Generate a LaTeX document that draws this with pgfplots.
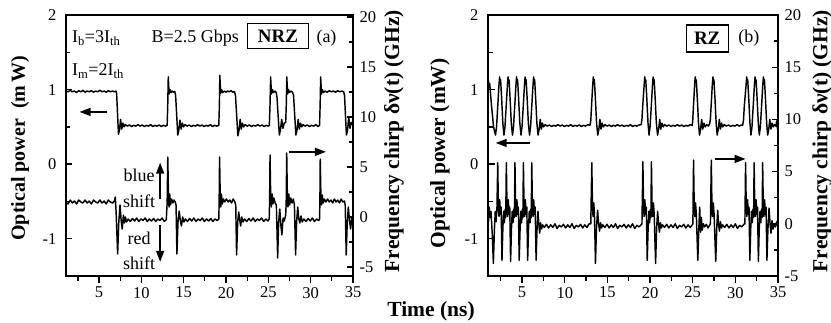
\documentclass[border=0pt]{standalone}
\usepackage{pgfplots}
\pgfplotsset{compat=1.18}
\usepackage{pgfplotstable}
\usepackage{fontspec}
\setmainfont{Liberation Serif}
\usetikzlibrary{arrows.meta}

% ---------- Panel (a) NRZ: optical power (mW) ----------
\pgfplotstableread{
t p
1.10 0.98
1.35 0.97
1.60 0.99
1.85 0.97
2.10 0.98
2.35 0.96
2.60 0.985
2.85 0.97
3.10 0.99
3.35 0.965
3.60 0.98
3.85 0.97
4.10 0.985
4.35 0.965
4.60 0.98
4.85 0.97
5.10 0.99
5.35 0.97
5.60 0.98
5.85 0.965
6.10 0.985
6.35 0.97
6.60 0.98
6.85 0.97
7.00 0.98
7.08 0.95
7.30 0.40
7.42 0.46
7.55 0.60
7.68 0.47
7.82 0.55
7.95 0.50
8.10 0.53
8.35 0.51
8.60 0.525
8.85 0.505
9.10 0.52
9.35 0.51
9.60 0.53
9.85 0.51
10.10 0.525
10.35 0.505
10.60 0.52
10.85 0.51
11.10 0.53
11.35 0.505
11.60 0.52
11.85 0.51
12.10 0.525
12.35 0.505
12.60 0.52
12.85 0.51
13.05 0.52
13.12 0.80
13.18 1.17
13.28 0.94
13.38 1.00
13.52 0.96
13.65 0.98
13.80 0.965
13.95 0.975
14.05 0.92
14.30 0.39
14.42 0.45
14.56 0.59
14.70 0.47
14.84 0.55
14.98 0.50
15.15 0.53
15.40 0.51
15.65 0.525
15.90 0.505
16.15 0.52
16.40 0.51
16.65 0.53
16.90 0.51
17.15 0.525
17.40 0.505
17.65 0.52
17.90 0.51
18.15 0.53
18.40 0.505
18.65 0.52
18.90 0.51
19.15 0.52
19.22 0.80
19.27 1.19
19.37 0.95
19.47 1.00
19.62 0.96
19.80 0.98
20.00 0.965
20.20 0.98
20.40 0.97
20.60 0.985
20.80 0.965
21.00 0.975
21.12 0.92
21.40 0.38
21.53 0.45
21.67 0.60
21.80 0.47
21.94 0.55
22.08 0.50
22.25 0.53
22.50 0.51
22.75 0.525
23.00 0.505
23.25 0.52
23.50 0.51
23.75 0.53
24.00 0.51
24.25 0.525
24.50 0.505
24.75 0.52
25.00 0.51
25.12 0.52
25.20 0.80
25.27 1.17
25.37 0.94
25.47 1.00
25.62 0.96
25.78 0.98
25.92 0.965
26.02 0.90
26.30 0.39
26.43 0.46
26.58 0.60
26.72 0.48
26.88 0.55
27.05 0.56
27.12 0.80
27.18 1.17
27.28 0.94
27.38 1.00
27.52 0.96
27.68 0.98
27.85 0.965
27.98 0.92
28.25 0.39
28.38 0.45
28.52 0.60
28.66 0.47
28.80 0.55
28.95 0.50
29.10 0.53
29.35 0.51
29.60 0.525
29.85 0.505
30.10 0.52
30.35 0.51
30.60 0.53
30.85 0.505
31.05 0.52
31.12 0.80
31.18 1.17
31.28 0.94
31.38 1.00
31.52 0.96
31.70 0.98
31.95 0.965
32.20 0.985
32.45 0.97
32.70 0.98
32.95 0.965
33.20 0.985
33.45 0.97
33.70 0.98
33.90 0.97
34.00 0.92
34.22 0.39
34.35 0.45
34.50 0.63
34.64 0.48
34.80 0.56
35.00 0.52
}\powerA

% ---------- Panel (a) NRZ: chirp (GHz) ----------
\pgfplotstableread{
t c
1.10 1.5
1.35 1.3
1.60 1.7
1.85 1.4
2.10 1.6
2.35 1.3
2.60 1.7
2.85 1.5
3.10 1.4
3.35 1.7
3.60 1.4
3.85 1.6
4.10 1.3
4.35 1.7
4.60 1.5
4.85 1.4
5.10 1.7
5.35 1.4
5.60 1.6
5.85 1.3
6.10 1.7
6.35 1.5
6.60 1.4
6.82 1.6
6.92 2.0
7.02 0.5
7.20 -3.7
7.33 -0.6
7.48 1.2
7.62 -0.4
7.74 -1.2
7.88 0.2
8.00 -0.6
8.12 0.0
8.25 -0.5
8.45 -0.2
8.70 -0.45
8.95 -0.15
9.20 -0.4
9.45 -0.1
9.70 -0.45
9.95 -0.2
10.20 -0.35
10.45 -0.1
10.70 -0.45
10.95 -0.2
11.20 -0.4
11.45 -0.15
11.70 -0.45
11.95 -0.2
12.20 -0.35
12.45 -0.1
12.70 -0.45
12.95 -0.25
13.05 1.5
13.12 6.0
13.20 2.5
13.27 1.0
13.35 2.3
13.45 1.2
13.58 1.8
13.72 1.4
13.86 1.7
14.00 1.5
14.10 1.2
14.20 -3.7
14.33 -0.5
14.47 0.6
14.60 -0.3
14.74 -0.9
14.88 0.0
15.02 -0.5
15.20 -0.2
15.45 -0.45
15.70 -0.15
15.95 -0.4
16.20 -0.1
16.45 -0.45
16.70 -0.2
16.95 -0.35
17.20 -0.1
17.45 -0.45
17.70 -0.2
17.95 -0.4
18.20 -0.15
18.45 -0.45
18.70 -0.2
18.95 -0.35
19.15 -0.2
19.19 1.5
19.24 6.0
19.31 2.5
19.38 1.0
19.46 2.3
19.56 1.3
19.70 1.8
19.85 1.5
20.05 1.8
20.25 1.5
20.45 1.7
20.65 1.4
20.85 1.8
21.05 1.5
21.15 1.2
21.25 -3.8
21.38 -0.5
21.50 0.5
21.62 -0.3
21.73 -0.9
21.86 0.0
22.00 -0.5
22.20 -0.2
22.45 -0.45
22.70 -0.15
22.95 -0.4
23.20 -0.1
23.45 -0.45
23.70 -0.2
23.95 -0.35
24.20 -0.1
24.45 -0.45
24.70 -0.2
24.95 -0.4
25.10 -0.2
25.15 1.5
25.20 6.2
25.27 2.5
25.35 1.0
25.44 2.3
25.54 1.3
25.66 1.9
25.80 1.4
25.95 1.2
26.10 -4.1
26.22 -0.5
26.35 0.8
26.48 -0.8
26.60 -1.8
26.74 -0.1
26.88 -0.4
27.05 0.2
27.11 1.5
27.17 6.4
27.24 2.5
27.32 1.0
27.42 2.3
27.52 1.2
27.65 1.9
27.80 1.4
27.95 1.8
28.08 1.2
28.22 -3.8
28.34 -0.5
28.47 1.0
28.60 -0.2
28.72 -0.6
28.86 0.1
29.00 -0.5
29.20 -0.2
29.45 -0.45
29.70 -0.15
29.95 -0.4
30.20 -0.1
30.45 -0.45
30.70 -0.2
30.95 -0.35
31.05 -0.2
31.09 1.5
31.13 5.8
31.20 2.5
31.28 1.2
31.37 2.2
31.47 1.4
31.62 1.8
31.80 1.5
32.00 1.8
32.20 1.5
32.40 1.7
32.60 1.4
32.80 1.8
33.00 1.5
33.20 1.7
33.40 1.4
33.60 1.8
33.80 1.5
34.00 1.6
34.08 1.2
34.20 -3.8
34.32 -0.5
34.45 1.0
34.58 -0.3
34.72 -1.2
34.86 0.0
35.00 -0.3
}\chirpA

% ---------- Panel (b) RZ: optical power (mW) ----------
\pgfplotstableread{
t p
1.00 1.02
1.05 1.13
1.12 1.03
1.20 1.08
1.40 0.80
1.65 0.50
1.88 0.39
2.00 0.50
2.13 0.75
2.28 1.05
2.36 1.17
2.42 1.10
2.48 1.13
2.60 0.88
2.74 0.55
2.87 0.39
2.99 0.50
3.12 0.75
3.27 1.05
3.35 1.17
3.41 1.10
3.47 1.13
3.59 0.88
3.73 0.55
3.87 0.39
3.99 0.50
4.12 0.75
4.27 1.05
4.35 1.17
4.41 1.10
4.47 1.13
4.59 0.88
4.73 0.55
4.87 0.39
4.99 0.50
5.12 0.75
5.27 1.05
5.35 1.17
5.41 1.10
5.47 1.13
5.59 0.88
5.73 0.55
5.87 0.39
5.99 0.50
6.12 0.75
6.27 1.05
6.35 1.17
6.41 1.10
6.47 1.13
6.59 0.88
6.73 0.55
6.87 0.39
7.00 0.47
7.12 0.60
7.25 0.47
7.38 0.55
7.52 0.50
7.70 0.53
7.95 0.51
8.20 0.525
8.45 0.505
8.70 0.52
8.95 0.51
9.20 0.53
9.45 0.51
9.70 0.525
9.95 0.505
10.20 0.52
10.45 0.51
10.70 0.53
10.95 0.505
11.20 0.52
11.45 0.51
11.70 0.525
11.95 0.505
12.20 0.52
12.45 0.51
12.70 0.53
12.95 0.52
13.05 0.58
13.15 0.80
13.27 1.05
13.35 1.17
13.41 1.10
13.47 1.13
13.59 0.88
13.73 0.55
13.87 0.39
14.00 0.47
14.12 0.60
14.25 0.47
14.38 0.55
14.52 0.50
14.70 0.53
14.95 0.51
15.20 0.525
15.45 0.505
15.70 0.52
15.95 0.51
16.20 0.53
16.45 0.51
16.70 0.525
16.95 0.505
17.20 0.52
17.45 0.51
17.70 0.53
17.95 0.505
18.20 0.52
18.45 0.51
18.70 0.525
18.95 0.53
19.05 0.60
19.15 0.80
19.30 1.05
19.38 1.17
19.44 1.10
19.50 1.13
19.62 0.88
19.76 0.55
19.88 0.39
20.00 0.50
20.13 0.75
20.28 1.05
20.36 1.17
20.42 1.10
20.48 1.13
20.60 0.88
20.74 0.55
20.88 0.39
21.01 0.47
21.13 0.60
21.26 0.47
21.40 0.55
21.55 0.50
21.70 0.53
21.95 0.51
22.20 0.525
22.45 0.505
22.70 0.52
22.95 0.51
23.20 0.53
23.45 0.51
23.70 0.525
23.95 0.505
24.20 0.52
24.45 0.51
24.70 0.53
24.95 0.52
25.00 0.58
25.10 0.80
25.22 1.05
25.30 1.17
25.36 1.10
25.42 1.13
25.54 0.88
25.68 0.55
25.80 0.39
25.93 0.47
26.05 0.60
26.18 0.47
26.32 0.55
26.46 0.50
26.65 0.53
26.85 0.51
27.00 0.55
27.07 0.60
27.17 0.80
27.29 1.05
27.37 1.17
27.43 1.10
27.49 1.13
27.61 0.88
27.75 0.55
27.87 0.39
28.00 0.47
28.12 0.60
28.25 0.47
28.38 0.55
28.52 0.50
28.70 0.53
28.95 0.51
29.20 0.525
29.45 0.505
29.70 0.52
29.95 0.51
30.20 0.53
30.45 0.51
30.70 0.525
30.85 0.52
30.95 0.58
31.05 0.78
31.25 1.05
31.33 1.17
31.39 1.10
31.45 1.13
31.57 0.88
31.71 0.55
31.83 0.39
31.95 0.50
32.08 0.75
32.23 1.05
32.31 1.17
32.37 1.10
32.43 1.13
32.55 0.88
32.69 0.55
32.81 0.39
32.93 0.50
33.06 0.75
33.21 1.05
33.29 1.17
33.35 1.10
33.41 1.13
33.53 0.88
33.67 0.55
33.79 0.39
33.92 0.47
34.04 0.60
34.17 0.47
34.30 0.55
34.45 0.50
34.60 0.53
34.75 0.51
34.85 0.58
34.92 0.48
35.00 0.53
}\powerB

% ---------- Panel (b) RZ: chirp (GHz) ----------
\pgfplotstableread{
t c
1.00 1.0
1.06 0.2
1.14 1.6
1.25 0.6
1.35 1.2
1.50 -1.0
1.63 -3.8
1.75 -0.6
1.85 1.2
1.95 0.2
2.05 1.5
2.14 5.85
2.22 1.5
2.29 0.7
2.37 2.3
2.46 0.9
2.54 1.6
2.64 -3.5
2.74 -0.5
2.83 1.2
2.92 0.1
3.01 1.4
3.08 0.6
3.15 5.85
3.23 1.5
3.30 0.7
3.38 2.3
3.47 0.9
3.55 1.6
3.65 -3.6
3.75 -0.5
3.84 1.2
3.93 0.1
4.02 1.4
4.09 0.6
4.16 5.85
4.24 1.5
4.31 0.7
4.39 2.3
4.48 0.9
4.56 1.6
4.66 -3.5
4.76 -0.5
4.85 1.2
4.94 0.1
5.03 1.4
5.09 0.6
5.15 5.85
5.23 1.5
5.30 0.7
5.38 2.3
5.47 0.9
5.55 1.6
5.65 -3.5
5.75 -0.5
5.84 1.2
5.93 0.1
6.01 1.4
6.07 0.6
6.13 5.85
6.21 1.5
6.28 0.7
6.36 2.3
6.45 0.9
6.53 1.6
6.64 -3.5
6.75 -0.5
6.86 1.2
6.96 0.0
7.06 -0.9
7.17 0.1
7.28 -0.5
7.40 -0.1
7.60 -0.35
7.85 -0.05
8.10 -0.4
8.35 -0.1
8.60 -0.35
8.85 0.0
9.10 -0.45
9.35 -0.15
9.60 -0.3
9.85 -0.05
10.10 -0.4
10.35 -0.1
10.60 -0.35
10.85 0.0
11.10 -0.45
11.35 -0.15
11.60 -0.3
11.85 -0.05
12.10 -0.4
12.35 -0.1
12.60 -0.35
12.85 0.0
13.05 0.0
13.17 5.85
13.25 1.5
13.32 0.7
13.40 2.0
13.48 1.0
13.60 -3.8
13.72 -0.4
13.85 1.3
13.97 0.0
14.08 -0.7
14.20 0.1
14.32 -0.4
14.45 -0.1
14.70 -0.35
14.95 -0.05
15.20 -0.4
15.45 -0.1
15.70 -0.35
15.95 0.0
16.20 -0.45
16.45 -0.15
16.70 -0.3
16.95 -0.05
17.20 -0.4
17.45 -0.1
17.70 -0.35
17.95 0.0
18.20 -0.45
18.45 -0.15
18.70 -0.3
18.95 -0.1
19.05 0.0
19.16 5.95
19.24 1.5
19.31 0.7
19.39 2.3
19.48 0.9
19.56 1.6
19.67 -3.5
19.77 -0.5
19.86 1.2
19.95 0.1
20.04 1.4
20.10 0.6
20.16 5.95
20.24 1.5
20.31 0.7
20.39 2.0
20.48 1.0
20.65 -3.8
20.77 -0.4
20.89 1.2
21.00 0.0
21.10 -0.8
21.22 0.1
21.34 -0.4
21.46 -0.1
21.70 -0.35
21.95 -0.05
22.20 -0.4
22.45 -0.1
22.70 -0.35
22.95 0.0
23.20 -0.45
23.45 -0.15
23.70 -0.3
23.95 -0.05
24.20 -0.4
24.45 -0.1
24.70 -0.35
24.95 -0.1
25.02 0.0
25.10 6.1
25.18 1.5
25.25 0.7
25.33 2.0
25.42 1.0
25.60 -3.5
25.72 -0.4
25.82 1.6
25.92 -0.8
26.02 0.6
26.12 -0.6
26.25 0.0
26.40 -0.3
26.60 -0.05
26.80 -0.4
27.00 -0.1
27.08 0.0
27.18 6.1
27.26 1.5
27.33 0.7
27.41 2.0
27.50 1.0
27.70 -3.6
27.82 -0.4
27.93 1.3
28.03 0.0
28.13 -0.7
28.25 0.2
28.37 -0.4
28.50 -0.1
28.75 -0.35
29.00 -0.05
29.25 -0.4
29.50 -0.1
29.75 -0.35
30.00 0.0
30.25 -0.45
30.50 -0.15
30.75 -0.3
31.00 -0.05
31.12 0.0
31.20 5.85
31.28 1.5
31.35 0.7
31.43 2.3
31.52 0.9
31.60 1.6
31.70 -3.5
31.80 -0.5
31.89 1.2
31.98 0.1
32.07 1.4
32.14 0.6
32.20 5.85
32.28 1.5
32.35 0.7
32.43 2.3
32.52 0.9
32.60 1.6
32.70 -3.6
32.80 -0.5
32.89 1.2
32.98 0.1
33.07 1.4
33.14 0.6
33.20 5.85
33.28 1.5
33.35 0.7
33.43 2.3
33.52 0.9
33.60 1.6
33.70 -3.5
33.82 -0.5
33.95 1.5
34.07 0.0
34.18 -0.9
34.30 0.3
34.42 -0.5
34.55 0.0
34.70 -0.3
34.85 0.2
35.00 -0.3
}\chirpB

\tikzset{
  trace/.style={black, line width=1.45pt, line join=round},
  lab/.style={font=\bfseries\fontsize{20}{20}\selectfont, rotate=90},
  labr/.style={font=\bfseries\fontsize{21.5}{21.5}\selectfont, rotate=90},
  ann/.style={font=\fontsize{18}{18}\selectfont},
  arr/.style={-{Triangle[length=11pt,width=8pt]}, line width=1.4pt},
}
\pgfplotsset{
  base/.style={
    scale only axis, height=261pt,
    xmax=35,
    /pgf/number format/assume math mode=true,
    tick label style={font=\fontsize{16.5}{16.5}\selectfont},
    axis line style={line width=1.6pt},
    every tick/.style={black, line width=1.3pt},
    major tick length=6.5pt, minor tick length=4.5pt,
    clip=false,
  },
  leftax/.style={
    base,
    ymin=-1.5, ymax=2,
    xtick={5,10,...,35}, minor xtick={2.5,7.5,...,32.5},
    ytick={-1,0,1,2}, minor ytick={-1.5,-0.5,0.5,1.5},
    xtick pos=left, ytick pos=left,
    xtick align=outside, ytick align=inside,
    yticklabel style={xshift=-6pt},
    xticklabel style={yshift=-1pt},
  },
  rightax/.style={
    base,
    axis x line=none, axis y line*=right,
    ytick={-5,0,...,20}, minor ytick={-2.5,2.5,...,17.5},
    ytick align=inside,
    yticklabel style={xshift=3pt},
  },
}

\begin{document}
\begin{tikzpicture}
\useasboundingbox (0,0) rectangle (831pt,322pt);

% ===== Panel (a) =====
\begin{axis}[leftax, at={(66pt,46pt)}, anchor=south west, width=287pt, xmin=1.1]
  \addplot[trace, no marks] table[x=t, y=p] {\powerA};
  \node[lab] at (axis description cs:-0.16,0.49) {Optical power\ \ (m\,W)};
  \node[ann, anchor=west] at (axis cs:1.4,1.69) {I\textsubscript{b}=3I\textsubscript{th}};
  \node[ann, anchor=west] at (axis cs:1.4,1.25) {I\textsubscript{m}=2I\textsubscript{th}};
  \node[ann, anchor=west] at (axis cs:10.8,1.69) {B=2.5 Gbps};
  \node[ann, draw, line width=1.2pt, font=\bfseries\fontsize{19}{19}\selectfont, minimum width=61pt, minimum height=25pt, inner sep=1pt] at (axis cs:26.13,1.72) {NRZ};
  \node[ann] at (axis cs:31.87,1.69) {(a)};
  \node[ann] at (axis cs:9.74,-0.15) {blue};
  \node[ann] at (axis cs:9.74,-0.50) {shift};
  \node[ann] at (axis cs:9.74,-0.99) {red};
  \node[ann] at (axis cs:9.74,-1.33) {shift};
  \draw[arr] (axis cs:12.22,-0.47) -- (axis cs:12.22,0.02);
  \draw[arr] (axis cs:12.22,-0.82) -- (axis cs:12.22,-1.31);
  \draw[arr] (axis cs:5.95,0.70) -- (axis cs:2.7,0.70);
  \draw[arr] (axis cs:27.4,0.165) -- (axis cs:31.8,0.165);
\end{axis}
\begin{axis}[rightax, at={(66pt,46pt)}, anchor=south west, width=287pt, xmin=1.1, ymin=-5.9, ymax=20.2]
  \addplot[trace, no marks] table[x=t, y=c] {\chirpA};
  \node[labr] at (axis description cs:1.143,0.517) {Frequency chirp δν(t) (GHz)};
\end{axis}

% ===== Panel (b) =====
\begin{axis}[leftax, at={(488pt,46pt)}, anchor=south west, width=290pt, xmin=1.0]
  \addplot[trace, no marks] table[x=t, y=p] {\powerB};
  \node[labr] at (axis description cs:-0.166,0.47) {Optical power (mW)};
  \node[ann, draw, line width=1.2pt, font=\bfseries\fontsize{19}{19}\selectfont, minimum width=42pt, minimum height=27pt, inner sep=1pt] at (axis cs:26.7,1.685) {RZ};
  \node[ann] at (axis cs:31.58,1.69) {(b)};
  \draw[arr] (axis cs:5.95,0.284) -- (axis cs:1.9,0.284);
  \draw[arr] (axis cs:27.6,0.07) -- (axis cs:31.2,0.07);
\end{axis}
\begin{axis}[rightax, at={(488pt,46pt)}, anchor=south west, width=290pt, xmin=1.0, ymin=-5, ymax=20]
  \addplot[trace, no marks] table[x=t, y=c] {\chirpB};
  \node[labr] at (axis description cs:1.152,0.517) {Frequency chirp δν(t) (GHz)};
\end{axis}

\node[font=\bfseries\fontsize{21.5}{21.5}\selectfont] at (431pt,11pt) {Time (ns)};
\end{tikzpicture}
\end{document}
